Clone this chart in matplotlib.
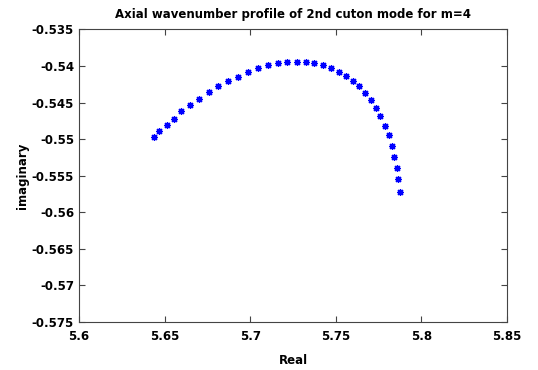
import matplotlib
matplotlib.use('Agg')
import matplotlib.pyplot as plt
import numpy as np

# Axial wavenumber values
re_k = [5.6438, 5.6469, 5.6512, 5.6555, 5.6598, 5.6648, 5.6703, 5.6758, 5.6814,
        5.6872, 5.6929, 5.6989, 5.7046, 5.7106, 5.7161, 5.7217, 5.7272, 5.7326,
        5.7373, 5.7423, 5.7474, 5.7517, 5.7560, 5.7602, 5.7637, 5.7671, 5.7704,
        5.7737, 5.7760, 5.7786, 5.7809, 5.7828, 5.7842, 5.7859, 5.7865, 5.7877]
im_k = [-0.54966, -0.54888, -0.54802, -0.54727, -0.54615, -0.54533, -0.54446,
        -0.54359, -0.54273, -0.54204, -0.54146, -0.54085, -0.54031, -0.53990,
        -0.53963, -0.53949, -0.53944, -0.53944, -0.53958, -0.53986, -0.54027,
        -0.54077, -0.54132, -0.54204, -0.54273, -0.54373, -0.54464, -0.54578,
        -0.54687, -0.54820, -0.54947, -0.55093, -0.55237, -0.55390, -0.55551,
        -0.55719]

xticks = [5.6, 5.65, 5.7, 5.75, 5.8, 5.85]
xticklabels = ['5.6', '5.65', '5.7', '5.75', '5.8', '5.85']
yticks = [-0.575, -0.57, -0.565, -0.56, -0.555, -0.55, -0.545, -0.54, -0.535]
yticklabels = ['-0.575', '-0.57', '-0.565', '-0.56', '-0.555', '-0.55', '-0.545', '-0.54', '-0.535']

fig = plt.figure(figsize=(5.38, 3.70), dpi=100)
ax = fig.add_axes([0.1468, 0.1297, 0.7956, 0.7906])

ax.plot(re_k, im_k, ls='none', marker=(8, 2, 0), ms=5, mew=0.9, color='blue')

ax.set_xlim(5.6, 5.85)
ax.set_ylim(-0.575, -0.535)
ax.set_xticks(xticks)
ax.set_xticklabels(xticklabels)
ax.set_yticks(yticks)
ax.set_yticklabels(yticklabels)
ax.tick_params(direction='in', top=True, right=True, length=4, width=0.8,
               labelsize=8.5, colors='#444444', labelcolor='black')
ax.tick_params(axis='x', pad=6)
for lab in ax.get_xticklabels() + ax.get_yticklabels():
    lab.set_fontweight('bold')
for sp in ax.spines.values():
    sp.set_color('#444444')
    sp.set_linewidth(0.8)

ax.set_xlabel('Real', fontsize=8.5, fontweight='bold', labelpad=8)
ax.set_ylabel('imaginary', fontsize=8.5, fontweight='bold', labelpad=2)
ax.set_title('Axial wavenumber profile of 2nd cuton mode for m=4',
             fontsize=8.5, fontweight='bold', pad=8)

plt.savefig('out.png', dpi=100)
